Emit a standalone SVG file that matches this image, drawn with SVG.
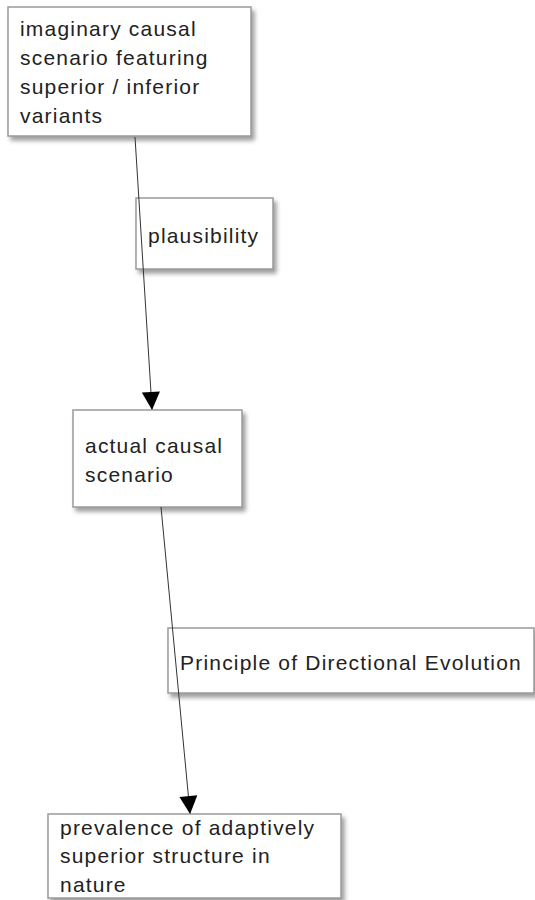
<svg xmlns="http://www.w3.org/2000/svg" width="535" height="900" viewBox="0 0 535 900">
<style>
.box{fill:#fff;stroke:#9a9a9a;stroke-width:1.5;filter:url(#sh)}
.t{font-family:"Liberation Sans",Arial,sans-serif;font-size:21px;letter-spacing:1.2px;fill:#222}
.c{stroke:#333;stroke-width:1;fill:none;marker-end:url(#ah)}
</style>
<defs>
<filter id="sh" x="-10%" y="-10%" width="130%" height="140%">
<feDropShadow dx="3" dy="4" stdDeviation="2" flood-color="#777" flood-opacity="0.7"/>
</filter>
<marker id="ah" markerUnits="userSpaceOnUse" markerWidth="20" markerHeight="18" refX="17" refY="9" orient="auto" viewBox="0 0 18 18">
<path d="M0,0 L18,9 L0,18 Z" fill="#000"/>
</marker>
</defs>
<g id="n1">
<rect class="box" x="8" y="7" width="243" height="129"/>
<text class="t" x="20" y="36">imaginary causal</text>
<text class="t" x="20" y="65">scenario featuring</text>
<text class="t" x="20" y="94">superior / inferior</text>
<text class="t" x="20" y="123">variants</text>
</g>
<g id="n2">
<rect class="box" x="136" y="198" width="137" height="71"/>
<text class="t" x="148" y="243">plausibility</text>
</g>
<g id="n3">
<rect class="box" x="73" y="410" width="169" height="97"/>
<text class="t" x="85" y="453">actual causal</text>
<text class="t" x="85" y="482">scenario</text>
</g>
<g id="n4">
<rect class="box" x="168" y="628" width="366" height="65"/>
<text class="t" x="180" y="670">Principle of Directional Evolution</text>
</g>
<g id="n5">
<rect class="box" x="48" y="814" width="293" height="84"/>
<text class="t" x="60" y="835">prevalence of adaptively</text>
<text class="t" x="60" y="863">superior structure in</text>
<text class="t" x="60" y="892">nature</text>
</g>
<g id="connectors">
<line class="c" x1="135" y1="137" x2="152" y2="409"/>
<line class="c" x1="161" y1="507" x2="190" y2="813"/>
</g>
</svg>
